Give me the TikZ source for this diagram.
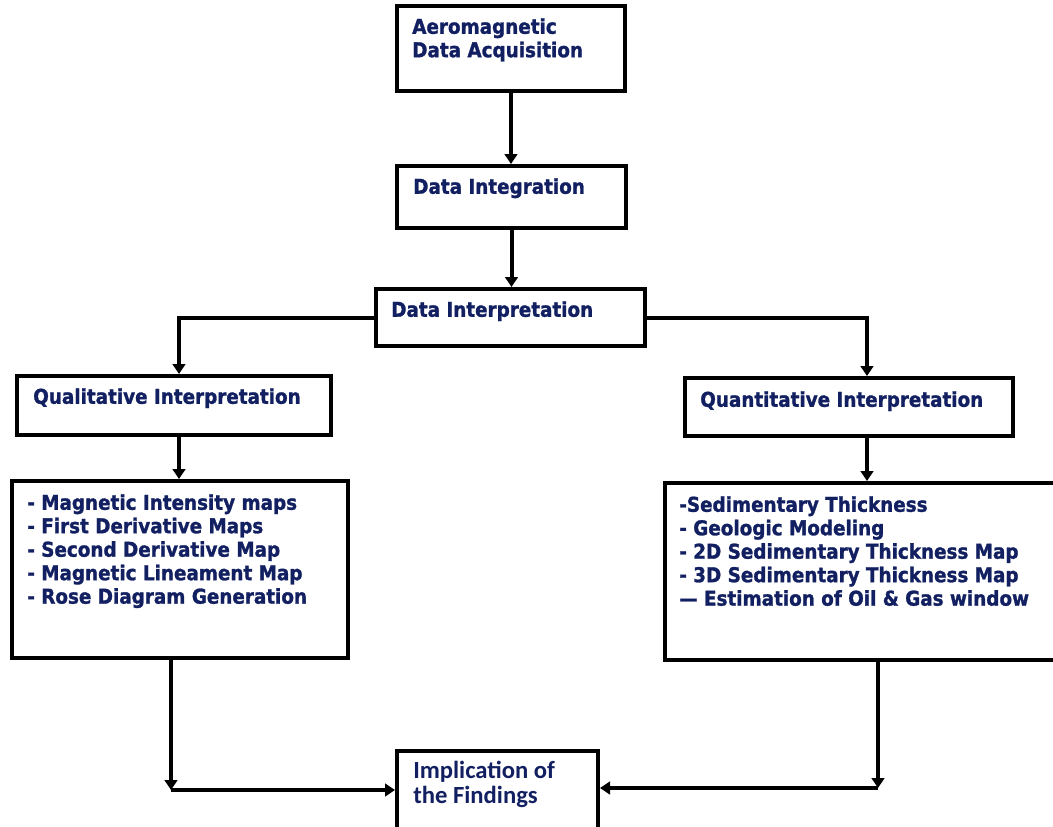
\documentclass[tikz,border=0pt]{standalone}
\usepackage{fontspec}
\setmainfont{DejaVu Sans}[FakeStretch=0.9]
\newfontfamily\listfont{DejaVu Sans}[FakeStretch=0.9,FakeBold=1.3]
\newfontfamily\implfont{Carlito}
\usetikzlibrary{arrows.meta,fit}
\definecolor{navy}{RGB}{18,32,98}
\tikzset{
  box/.style={draw=black, line width=3pt, inner sep=0pt, rectangle},
  txt/.style={text=navy, inner sep=0pt, anchor=north west, align=left,
    font=\listfont\bfseries\fontsize{15.3pt}{17.6pt}\selectfont},
  impltxt/.style={text=navy, inner sep=0pt, anchor=north west, align=left,
    font=\implfont\bfseries\fontsize{18.5pt}{18.6pt}\selectfont},
  conn/.style={line width=3pt, -{Triangle[length=7.5pt,width=9.5pt]}},
}
\begin{document}
\begin{tikzpicture}[x=0.75pt,y=-0.75pt]
\useasboundingbox (0,0) rectangle (1053,826);
\clip (0,0) rectangle (1053,826);
% boxes
\node[box, fit={(397,6) (625,91)}] (acq) {};
\node[box, fit={(397,166) (626,228)}] (integ) {};
\node[box, fit={(376,289) (645,346)}] (interp) {};
\node[box, fit={(17,376) (331,435)}] (qual) {};
\node[box, fit={(685,378) (1013,436)}] (quant) {};
\node[box, fit={(12,481) (348,658)}] (qlist) {};
\node[box, fit={(665,483) (1090,660)}] (qnlist) {};
\node[box, fit={(397,751) (598,860)}] (impl) {};
% texts
\node[txt] (acq-t) at (412,18) {Aeromagnetic\\Data Acquisition};
\node[txt] (integ-t) at (413,178) {Data Integration};
\node[txt] (interp-t) at (391,301) {Data Interpretation};
\node[txt] (qual-t) at (33,388) {Qualitative Interpretation};
\node[txt] (quant-t) at (700,391) {Quantitative Interpretation};
\node[txt] (qlist-t) at (27,494) {- Magnetic Intensity maps\\- First Derivative Maps\\- Second Derivative Map\\- Magnetic Lineament Map\\- Rose Diagram Generation};
\node[txt] (qnlist-t) at (679,496) {-Sedimentary Thickness\\- Geologic Modeling\\- 2D Sedimentary Thickness Map\\- 3D Sedimentary Thickness Map\\— Estimation of Oil \& Gas window};
\node[impltxt] (impl-t) at (413,761) {Implication of\\the Findings};
% helper coordinates
\coordinate (xq) at (179,0);
\coordinate (xn) at (867,0);
\coordinate (cL) at (171,790);
\coordinate (cR) at (878,788);
% connectors
\draw[conn] (acq.south) -- (acq.south |- integ.north);
\draw[conn] (integ.south) -- (integ.south |- interp.north);
\draw[conn] (interp.west) -| (qual.north -| xq);
\draw[conn] (interp.east) -| (quant.north -| xn);
\draw[conn] (qual.south -| xq) -- (qlist.north -| xq);
\draw[conn] (quant.south -| xn) -- (qnlist.north -| xn);
\draw[conn] (qlist.south -| cL) -- (cL);
\draw[conn] (cL) -- (cL -| impl.west);
\draw[conn] (qnlist.south -| cR) -- (cR);
\draw[conn] (cR) -- (cR -| impl.east);
\end{tikzpicture}
\end{document}
